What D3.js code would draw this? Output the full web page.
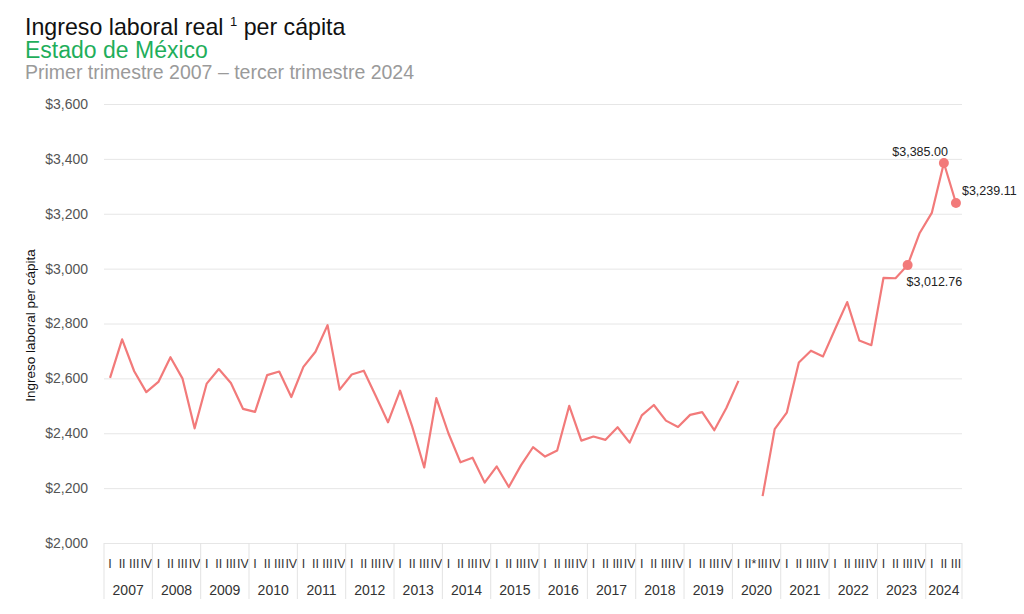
<!DOCTYPE html>
<html>
<head>
<meta charset="utf-8">
<script src="https://cdn.jsdelivr.net/npm/d3@7"></script>
<style>
  body { margin: 0; background: #fff; }
  svg { font-family: "Liberation Sans", Arial, sans-serif; }
</style>
</head>
<body>
<div id="chart"></div>
<script>
// years shown on the axis, and quarters per year (2024 only up to III)
const years = [2007, 2008, 2009, 2010, 2011, 2012, 2013, 2014, 2015, 2016, 2017, 2018, 2019, 2020, 2021, 2022, 2023, 2024]
const quarterNames = ["I", "II", "III", "IV"]
const lastYearQuarters = 3

// ingreso laboral real per capita, one per quarter; null = no data (2020 II*)
const values = [
  2602, 2742, 2626, 2550,   // 2007
  2587, 2677, 2599, 2418,   // 2008
  2581, 2634, 2583, 2489,   // 2009
  2478, 2612, 2625, 2532,   // 2010
  2642, 2697, 2794, 2559,   // 2011
  2614, 2628, 2535, 2440,   // 2012
  2555, 2425, 2275, 2528,   // 2013
  2400, 2294, 2311, 2220,   // 2014
  2279, 2204, 2283, 2349,   // 2015
  2315, 2337, 2500, 2373,   // 2016
  2388, 2376, 2422, 2366,   // 2017
  2465, 2503, 2446, 2423,   // 2018
  2467, 2477, 2411, 2492,   // 2019
  2591, null, 2171, 2415,   // 2020
  2475, 2658, 2701, 2680,   // 2021
  2780, 2878, 2738, 2721,   // 2022
  2966, 2965, 3012.76, 3130, // 2023
  3203, 3385.00, 3239.11    // 2024
]

// quarters that get a dot and a label
const highlighted = ["2023-III", "2024-II", "2024-III"]
const yTicks = [2000, 2200, 2400, 2600, 2800, 3000, 3200, 3400, 3600]

// build the quarter list from the years
let quarters = []
years.forEach(y => {
  let n = y === years[years.length - 1] ? lastYearQuarters : 4
  for (let q = 0; q < n; q++) {
    let label = quarterNames[q]
    if (y === 2020 && q === 1) label = "II*"
    quarters.push({ key: y + "-" + quarterNames[q], year: y, label: label })
  }
})
let data = quarters.map((q, i) => ({ ...q, value: values[i] }))

const width = 1024, height = 614
const margin = { top: 104, right: 62, bottom: 71, left: 104 }
const color = "#f27a7a"

const svg = d3.select("#chart").append("svg")
  .attr("width", width)
  .attr("height", height)

// titles
let title = svg.append("text").attr("x", 25).attr("y", 35)
  .attr("font-size", 23.2).attr("fill", "#111")
title.append("tspan").text("Ingreso laboral real ")
title.append("tspan").text("1").attr("font-size", 13).attr("dy", -9)
title.append("tspan").text(" per cápita").attr("dy", 9)

svg.append("text").attr("x", 25).attr("y", 58)
  .attr("font-size", 23).attr("fill", "#1fae5b")
  .text("Estado de México")

svg.append("text").attr("x", 25).attr("y", 79)
  .attr("font-size", 19.5).attr("fill", "#9a9a9a")
  .text("Primer trimestre 2007 – tercer trimestre 2024")

const x = d3.scaleBand()
  .domain(data.map(d => d.key))
  .range([margin.left, width - margin.right])
  .paddingInner(0)

const y = d3.scaleLinear()
  .domain([2000, 3600])
  .range([height - margin.bottom, margin.top])

const cx = d => x(d.key) + x.bandwidth() / 2

// y gridlines and labels
let yAxis = svg.append("g")
  .attr("transform", "translate(" + margin.left + ",0)")
  .call(d3.axisLeft(y)
    .tickValues(yTicks)
    .tickSize(-(width - margin.left - margin.right))
    .tickPadding(16)
    .tickFormat(d3.format("$,.0f")))
yAxis.select(".domain").remove()
yAxis.selectAll(".tick line").attr("stroke", "#e6e6e6")
yAxis.selectAll(".tick text")
  .attr("font-size", 14).attr("fill", "#555")
  .attr("font-family", "Liberation Sans, Arial, sans-serif")

svg.append("text")
  .attr("transform", "translate(35," + (margin.top + (height - margin.bottom - margin.top) / 2 + 2) + ") rotate(-90)")
  .attr("text-anchor", "middle")
  .attr("font-size", 13.5).attr("fill", "#111")
  .text("Ingreso laboral per cápita")

// x axis: quarter labels grouped by year, with separators
let xAxis = svg.append("g")
let base = height - margin.bottom
xAxis.selectAll(".q")
  .data(data)
  .enter().append("text")
  .attr("class", "q")
  .attr("x", cx)
  .attr("y", base + 25)
  .attr("text-anchor", "middle")
  .attr("font-size", 12.5).attr("fill", "#333")
  .text(d => d.label)

let yearGroups = d3.groups(data, d => d.year).map(([yr, qs]) => ({
  year: yr,
  x0: x(qs[0].key),
  x1: x(qs[qs.length - 1].key) + x.bandwidth()
}))

xAxis.selectAll(".sep")
  .data(yearGroups)
  .enter().append("line")
  .attr("x1", d => d.x0).attr("x2", d => d.x0)
  .attr("y1", base).attr("y2", base + 56)
  .attr("stroke", "#e3e3e3")
xAxis.append("line")
  .attr("x1", width - margin.right).attr("x2", width - margin.right)
  .attr("y1", base).attr("y2", base + 56)
  .attr("stroke", "#e3e3e3")

xAxis.selectAll(".yr")
  .data(yearGroups)
  .enter().append("text")
  .attr("x", d => (d.x0 + d.x1) / 2)
  .attr("y", base + 52)
  .attr("text-anchor", "middle")
  .attr("font-size", 14).attr("fill", "#333")
  .text(d => d.year)

// the line, broken where there is no value
let line = d3.line()
  .defined(d => d.value != null)
  .x(cx)
  .y(d => y(d.value))

svg.append("path")
  .datum(data)
  .attr("fill", "none")
  .attr("stroke", color)
  .attr("stroke-width", 2.2)
  .attr("stroke-linejoin", "round")
  .attr("d", line)

let marked = data.filter(d => highlighted.includes(d.key))
svg.selectAll(".dot")
  .data(marked)
  .enter().append("circle")
  .attr("cx", cx)
  .attr("cy", d => y(d.value))
  .attr("r", 5)
  .attr("fill", color)

// label placement for each highlighted point
const labelPos = {
  "2023-III": { dx: -1, dy: 21, anchor: "start" },
  "2024-II": { dx: 4, dy: -7, anchor: "end" },
  "2024-III": { dx: 6, dy: -8, anchor: "start" }
}
svg.selectAll(".lbl")
  .data(marked)
  .enter().append("text")
  .attr("x", d => cx(d) + labelPos[d.key].dx)
  .attr("y", d => y(d.value) + labelPos[d.key].dy)
  .attr("text-anchor", d => labelPos[d.key].anchor)
  .attr("font-size", 12.5).attr("fill", "#222")
  .text(d => d3.format("$,.2f")(d.value))
</script>
</body>
</html>
